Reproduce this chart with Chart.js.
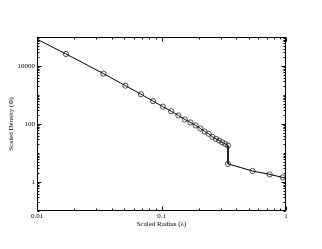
<!DOCTYPE html>
<html><head><meta charset="utf-8">
<script src="https://cdn.jsdelivr.net/npm/chart.js@4/dist/chart.umd.min.js"></script>
<style>html,body{margin:0;padding:0;background:#fff}</style>
</head><body>
<canvas id="c" width="322" height="249"></canvas>
<script>
// Scaled radius (λ) values
const radiusValues = [0.01, 0.0171, 0.0342, 0.0513, 0.0684, 0.0855, 0.1026, 0.1197, 0.1368, 0.1539, 0.171,
  0.1881, 0.2052, 0.2223, 0.2394, 0.2565, 0.2736, 0.2907, 0.3078, 0.3249, 0.342,
  0.342, 0.538, 0.74, 0.94, 1.0];
// Scaled density (Φ) values
const densityValues = [84000, 26000, 5460, 2100, 1066, 615, 397, 275, 197, 143, 113,
  89, 70, 55, 46, 36, 30.8, 26.9, 23.4, 20.5, 18.0,
  4.2, 2.4, 1.83, 1.44, 1.38];
// 1 = marker drawn, 0 = line only
const markerShown = [0, 1,1,1,1,1,1,1,1,1,1, 1,1,1,1,1,1,1,1,1,1, 1,1,1,1, 0];

const xTickValues = [0.01, 0.1, 1];
const xTickLabels = ['0.01', '0.1', '1'];
const yTickValues = [1, 100, 10000];
const yTickLabels = ['1', '100', '10000'];

const FONT = {family: '"Liberation Serif", "DejaVu Serif", serif', size: 7};

const frameTicks = {
  id: 'frameTicks',
  afterDatasetsDraw(chart) {
    const {ctx, chartArea: a, scales: {x, y}} = chart;
    ctx.save();
    ctx.strokeStyle = '#000';
    ctx.lineWidth = 1;
    const L = Math.round(a.left) + 0.5, R = Math.round(a.right) - 0.5;
    const T = Math.round(a.top) + 0.5, B = Math.round(a.bottom) - 0.5;
    ctx.strokeRect(L, T, R - L, B - T);
    const line = (x1, y1, x2, y2) => { ctx.beginPath(); ctx.moveTo(x1, y1); ctx.lineTo(x2, y2); ctx.stroke(); };
    // x ticks
    for (let e = -2; e <= 0; e++) {
      for (let k = 1; k <= 9; k++) {
        const v = k * Math.pow(10, e);
        if (v > 1.0000001) continue;
        const major = k === 1;
        const len = major ? 4 : 2;
        const px = Math.round(x.getPixelForValue(v)) + 0.5;
        line(px, B, px, B - len);
        line(px, T, px, T + len);
      }
    }
    // y ticks
    for (let e = -1; e <= 5; e++) {
      for (let k = 1; k <= 9; k++) {
        const v = k * Math.pow(10, e);
        if (v > 100000.1) continue;
        const major = (k === 1 && e % 2 === 0);
        const len = major ? 4 : 2;
        const py = Math.round(y.getPixelForValue(v)) + 0.5;
        line(L, py, L + len, py);
        line(R, py, R - len, py);
      }
    }
    ctx.restore();
  }
};

const pts = radiusValues.map((r, i) => ({x: r, y: densityValues[i]}));

new Chart(document.getElementById('c'), {
  type: 'line',
  data: {
    datasets: [{
      data: pts,
      borderColor: '#000',
      borderWidth: 1,
      tension: 0,
      pointRadius: markerShown.map(m => m ? 2.6 : 0),
      pointHoverRadius: 0,
      pointStyle: 'circle',
      pointBackgroundColor: 'rgba(255,255,255,0)',
      pointBorderColor: '#222',
      pointBorderWidth: 0.8
    }]
  },
  options: {
    responsive: false,
    animation: false,
    devicePixelRatio: 1,
    layout: {padding: {left: 0, top: 37, right: 36, bottom: 0}},
    plugins: {legend: {display: false}, tooltip: {enabled: false}},
    scales: {
      x: {
        type: 'logarithmic', min: 0.01, max: 1,
        afterBuildTicks: s => { s.ticks = xTickValues.map(v => ({value: v})); },
        afterFit: s => { s.height = 38; },
        grid: {display: false, drawTicks: false},
        border: {display: false},
        ticks: {
          autoSkip: false, maxRotation: 0, padding: 1, color: '#000', font: FONT,
          callback: (v) => { const i = xTickValues.findIndex(t => Math.abs(t - v) < 1e-9); return i >= 0 ? xTickLabels[i] : ''; }
        },
        title: {display: true, text: 'Scaled Radius (\u03bb)', color: '#000', font: FONT, padding: {top: 0, bottom: 20.5}}
      },
      y: {
        type: 'logarithmic', min: 0.1, max: 100000,
        afterBuildTicks: s => { s.ticks = yTickValues.map(v => ({value: v})); },
        afterFit: s => { s.width = 37; },
        grid: {display: false, drawTicks: false},
        border: {display: false},
        ticks: {
          autoSkip: false, padding: 2, color: '#000', font: FONT,
          callback: (v) => { const i = yTickValues.findIndex(t => Math.abs(t - v) < 1e-6); return i >= 0 ? yTickLabels[i] : ''; }
        },
        title: {display: true, text: 'Scaled Density (\u03a6)', color: '#000', font: FONT, padding: {top: 6.8, bottom: 0}}
      }
    }
  },
  plugins: [frameTicks]
});
</script>
</body></html>
